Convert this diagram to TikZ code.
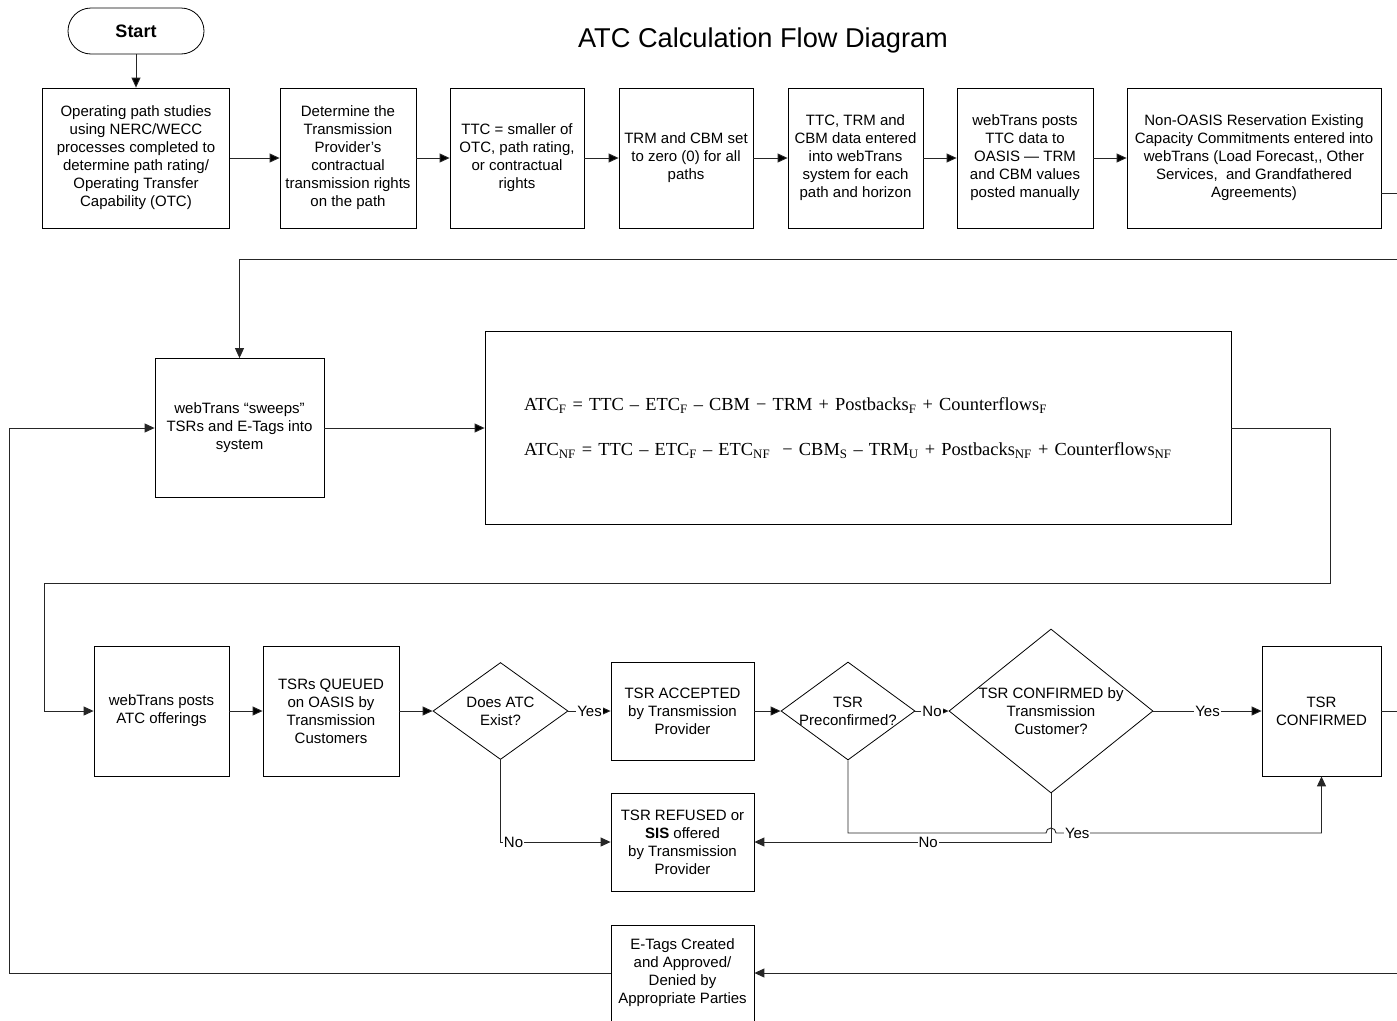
\documentclass[tikz,border=0pt]{standalone}
\usepackage{fontspec}
\setmainfont{Liberation Sans}
\newfontfamily\formfont{Liberation Serif}
\usetikzlibrary{calc,shapes,positioning}
\usetikzlibrary{arrows.meta}
\tikzset{>={Triangle[width=9pt,length=10pt]}}

\begin{document}
\begin{tikzpicture}[x=1pt,y=-1pt]
  \useasboundingbox (0,0) rectangle (1397,1020);
  \tikzstyle{pnode} = [draw=black, line width=0.8pt, rectangle, inner sep=2pt, align=center, font=\fontsize{15}{18}\selectfont]
  \tikzstyle{tnode} = [pnode, rounded corners=23pt, minimum width=136pt, minimum height=46pt, font=\fontsize{18}{20}\selectfont\bfseries]
  \tikzstyle{dnode} = [draw=black, line width=0.8pt, diamond, inner sep=0pt]
  \tikzstyle{dtext} = [align=center, inner sep=0pt, font=\fontsize{15}{18}\selectfont]
  \tikzstyle{lnode} = [fill=white, inner sep=1pt, font=\fontsize{15}{18}\selectfont]
  \tikzstyle{conn} = [->, line width=0.9pt, draw=black!85]

  \node[font=\fontsize{27.2}{30}\selectfont] (title) at (763,40) {ATC Calculation Flow Diagram};

  % top row
  \node[tnode] (start) at (136,31) {Start};
  \node[pnode, minimum width=187pt, minimum height=140pt] (b1) at (136,158) {Operating path studies\\using NERC/WECC\\processes completed to\\determine path rating/\\Operating Transfer\\Capability (OTC)};
  \node[pnode, minimum width=136pt, minimum height=140pt] (b2) at (348,158) {Determine the\\Transmission\\Provider's\\contractual\\transmission rights\\on the path};
  \node[pnode, minimum width=134pt, minimum height=140pt] (b3) at (517,158) {TTC = smaller of\\OTC, path rating,\\or contractual\\rights};
  \node[pnode, minimum width=134pt, minimum height=140pt] (b4) at (686,158) {TRM and CBM set\\to zero (0) for all\\paths};
  \node[pnode, minimum width=135pt, minimum height=140pt] (b5) at (855.5,158) {TTC, TRM and\\CBM data entered\\into webTrans\\system for each\\path and horizon};
  \node[pnode, minimum width=136pt, minimum height=140pt] (b6) at (1025,158) {webTrans posts\\TTC data to\\OASIS — TRM\\and CBM values\\posted manually};
  \node[pnode, minimum width=254pt, minimum height=140pt] (b7) at (1254,158) {Non-OASIS Reservation Existing\\Capacity Commitments entered into\\webTrans (Load Forecast,{},{} Other\\Services,\ \ and Grandfathered\\Agreements)};

  % middle row
  \node[pnode, minimum width=169pt, minimum height=139pt] (sweep) at (239.5,428) {webTrans “sweeps”\\TSRs and E-Tags into\\system};
  \node[draw=black, line width=0.8pt, minimum width=746pt, minimum height=193pt, inner xsep=39pt, text width=668pt, align=left, font=\formfont\fontsize{18.4}{45}\selectfont] (fbox) at (858,428) {\mbox{ATC\textsubscript{F} = TTC – ETC\textsubscript{F} – CBM − TRM + Postbacks\textsubscript{F} + Counterflows\textsubscript{F}}\\\mbox{ATC\textsubscript{NF} = TTC – ETC\textsubscript{F} – ETC\textsubscript{NF} \ − CBM\textsubscript{S} – TRM\textsubscript{U} + Postbacks\textsubscript{NF} + Counterflows\textsubscript{NF}}};

  % bottom rows
  \node[pnode, minimum width=135pt, minimum height=130pt] (posts) at (161.5,711) {webTrans posts\\ATC offerings};
  \node[pnode, minimum width=136pt, minimum height=130pt] (queued) at (331,711) {TSRs QUEUED\\on OASIS by\\Transmission\\Customers};
  \node[dnode, minimum width=135pt, minimum height=97pt, label={[dtext]center:{Does ATC\\Exist?}}] (atc) at (500.5,711) {};
  \node[pnode, minimum width=143pt, minimum height=98pt] (acc) at (682.5,711) {TSR ACCEPTED\\by Transmission\\Provider};
  \node[dnode, minimum width=134pt, minimum height=98pt, label={[dtext]center:{TSR\\Preconfirmed?}}] (pre) at (848,711) {};
  \node[dnode, minimum width=204pt, minimum height=164pt, label={[dtext]center:{TSR CONFIRMED by\\Transmission\\Customer?}}] (con) at (1051,711) {};
  \node[pnode, minimum width=119pt, minimum height=130pt] (tsrc) at (1321.5,711) {TSR\\CONFIRMED};
  \node[pnode, minimum width=143pt, minimum height=98pt] (ref) at (682.5,842) {TSR REFUSED or\\\textbf{SIS} offered\\by Transmission\\Provider};
  \node[pnode, minimum width=143pt, minimum height=96pt] (etag) at (682.5,973) {E-Tags Created\\and Approved/\\Denied by\\Appropriate Parties};

  \coordinate (ra) at (1415,193);
  \coordinate (rb) at (1415,259);
  \coordinate (rc) at (1330,583);
  \coordinate (lc) at (44,583);
  \coordinate (rd) at (1415,973);
  \coordinate (le) at (9,973);
  \coordinate (ny) at (0,833);

  \path[conn]
  (start) edge (b1)
  (b1) edge (b2)
  (b2) edge (b3)
  (b3) edge (b4)
  (b4) edge (b5)
  (b5) edge (b6)
  (b6) edge (b7)
  (sweep) edge (fbox)
  (posts) edge (queued)
  (queued) edge (atc)
  (atc) edge node[lnode] {Yes} (acc)
  (acc) edge (pre)
  (pre) edge node[lnode] {No} (con)
  (con) edge node[lnode] {Yes} (tsrc)
  ;

  \draw[conn] (b7.east |- ra) -- (ra) -- (rb) -| (sweep.north);
  \draw[conn] (fbox.east) -| (rc) -- (lc) |- (posts.west);
  \draw[conn] (tsrc.east) -- (tsrc.east -| rd) |- (etag.east);
  \draw[conn] (etag.west) -| (le) |- (sweep.west);
  \draw[conn] (atc.south) |- node[lnode, pos=0.5, anchor=west, xshift=2pt] {No} (ref.west);
  \draw[conn] (con.south) |- node[lnode, pos=0.707] {No} (ref.east);
  \draw[conn] (pre.south) |- ($(con.south |- ny)+(-5,0)$) arc[start angle=180, end angle=0, radius=5pt] -| node[lnode, pos=0.04] {Yes} (tsrc.south);
\end{tikzpicture}
\end{document}
